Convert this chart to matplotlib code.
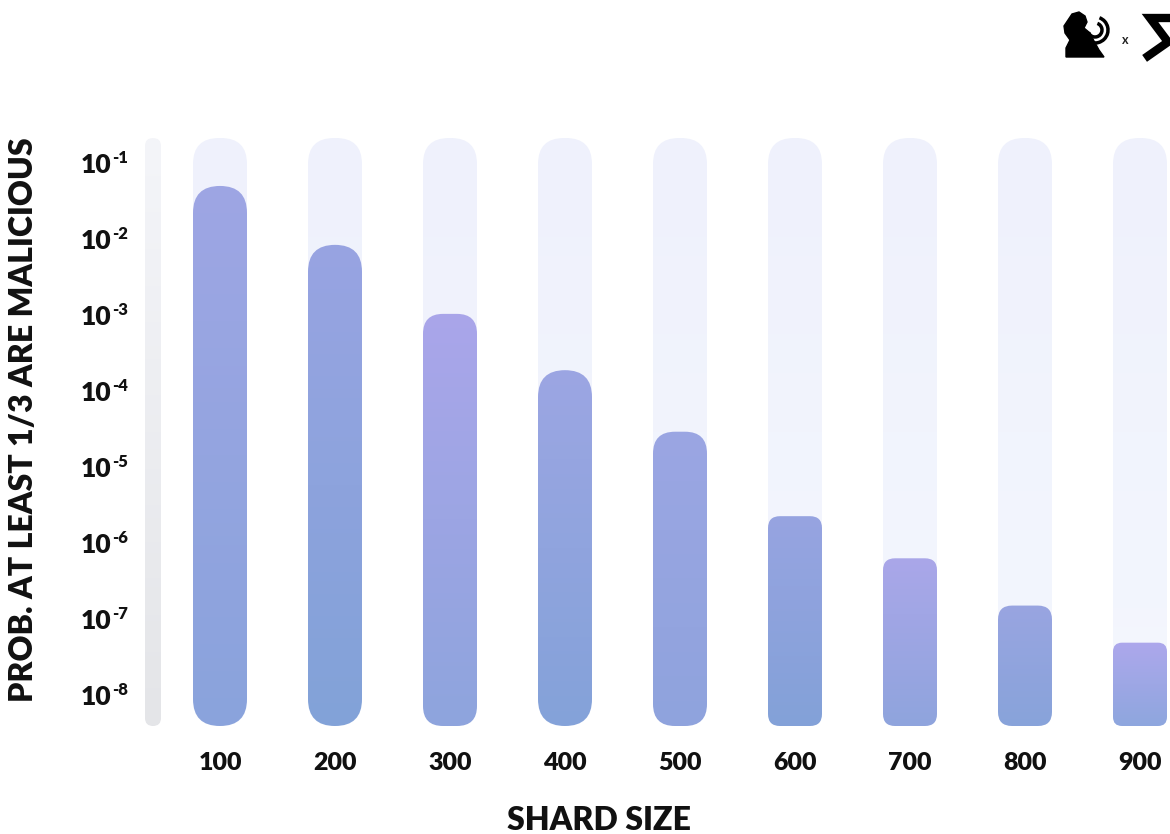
import matplotlib
matplotlib.use("Agg")
import matplotlib.pyplot as plt
import matplotlib.transforms as mtransforms
import numpy as np
from matplotlib.colors import to_rgb
from matplotlib.patches import FancyBboxPatch, Polygon, Arc

plt.rcParams["font.family"] = ["Lato", "DejaVu Sans"]
plt.rcParams["font.weight"] = "bold"

# shard size vs probability that at least 1/3 of the shard is malicious
shard_sizes = ["100", "200", "300", "400", "500", "600", "700", "800", "900"]
prob_malicious = [5.3e-2, 8.9e-3, 1.1e-3, 2.0e-4, 3.1e-5, 2.4e-6, 6.7e-7, 1.6e-7, 5.2e-8]
y_exponents = [-1, -2, -3, -4, -5, -6, -7, -8]
y_range = (10 ** -8.38, 10 ** -0.645)

# styling per bar: corner radius in pixels and top/bottom gradient colours
corner_px = [27, 27, 20, 27, 22, 12, 12, 14, 9]
top_colors = ["#9ea6e4", "#98a4e2", "#aaa6ea", "#9ca6e3", "#9ba6e3",
              "#97a4e1", "#aaa7e9", "#99a5e1", "#ada8ec"]
bottom_colors = ["#8aa3dc", "#82a2d8", "#8ea4dd", "#84a2d9", "#8fa3dd",
                 "#83a1d8", "#8fa4dd", "#88a3da", "#8ea6de"]

W, H = 1170, 834
fig = plt.figure(figsize=(W / 100, H / 100), dpi=100)
fig.patch.set_facecolor("white")

ax_left, ax_right, ax_top, ax_bottom = 140, 1170, 138, 726
ax = fig.add_axes([ax_left / W, 1 - ax_bottom / H,
                   (ax_right - ax_left) / W, (ax_bottom - ax_top) / H])

x = np.arange(len(shard_sizes))
x_step_px = 115.0
x_lim = ((ax_left - 220) / x_step_px, (ax_right - 220) / x_step_px)
y_lim = (np.log10(y_range[0]), np.log10(y_range[1]))

px_per_x = (ax_right - ax_left) / (x_lim[1] - x_lim[0])
px_per_y = (ax_bottom - ax_top) / (y_lim[1] - y_lim[0])
aspect = px_per_x / px_per_y
bar_w = 54 / px_per_x


def gradient_bar(x0, y0, w, h, radius_px, c_top, c_bottom, z):
    patch = FancyBboxPatch((x0, y0), w, h,
                           boxstyle=f"round,pad=0,rounding_size={radius_px / px_per_x}",
                           mutation_aspect=aspect, facecolor="none",
                           edgecolor="none", zorder=z)
    ax.add_patch(patch)
    t = np.linspace(0, 1, 256)[:, None, None]
    grad = (1 - t) * np.array(to_rgb(c_top)) + t * np.array(to_rgb(c_bottom))
    im = ax.imshow(grad, extent=(x0, x0 + w, y0, y0 + h), origin="upper",
                   aspect="auto", interpolation="bilinear", zorder=z)
    im.set_clip_path(patch)


# grey rail that stands in for the y axis
rail_w = 16 / px_per_x
gradient_bar(-67 / px_per_x - rail_w / 2, y_lim[0], rail_w, y_lim[1] - y_lim[0],
             8, "#f4f5f9", "#e4e5e8", 1)

for i, p in enumerate(prob_malicious):
    # pale full-height track behind each bar
    gradient_bar(x[i] - bar_w / 2, y_lim[0], bar_w, y_lim[1] - y_lim[0],
                 26, "#eff1fc", "#f4f7fe", 1)
    gradient_bar(x[i] - bar_w / 2, y_lim[0], bar_w, np.log10(p) - y_lim[0],
                 corner_px[i], top_colors[i], bottom_colors[i], 2)

ax.set_xlim(*x_lim)
ax.set_ylim(*y_lim)
ax.set_xticks(x)
ax.set_xticklabels(shard_sizes, fontsize=18, fontweight="heavy")
shift = mtransforms.Affine2D().translate(-4, 0)
for lbl in ax.get_xticklabels():
    lbl.set_transform(lbl.get_transform() + shift)
ax.set_yticks(y_exponents)
ax.set_yticklabels([])
ax.tick_params(axis="both", length=0, colors="#111111")
ax.tick_params(axis="x", pad=19)
for s in ax.spines.values():
    s.set_visible(False)
ax.set_facecolor("none")

# power-of-ten labels: base and raised exponent drawn separately
ytrans = ax.get_yaxis_transform()
for e in y_exponents:
    ax.text(-29 / (ax_right - ax_left), e, "10", transform=ytrans, ha="right",
            va="center", fontsize=19, fontweight="heavy", color="#111111")
    ax.text(-28 / (ax_right - ax_left), e, f"-{-e}",
            transform=ytrans + mtransforms.Affine2D().translate(0, 7),
            ha="left", va="center", fontsize=12, fontweight="heavy", color="#111111")

fig.text(24 / W, 1 - 420 / H, "PROB. AT LEAST 1/3 ARE MALICIOUS", rotation=90,
         ha="center", va="center", fontsize=23, fontweight="heavy", color="#111111")
fig.text(599 / W, 1 - 821 / H, "SHARD SIZE", ha="center", va="center",
         fontsize=23, fontweight="heavy", color="#111111")

# small logo in the top-right corner
logo = fig.add_axes([0, 0, 1, 1], zorder=5)
logo.set_xlim(0, W)
logo.set_ylim(H, 0)
logo.axis("off")
lion = [(1068, 20), (1072, 14), (1079, 12), (1085, 16), (1087, 22), (1084, 28),
        (1090, 33), (1094, 41), (1099, 50), (1104, 57), (1066, 57), (1066, 48),
        (1070, 40), (1065, 33), (1064, 26)]
logo.add_patch(Polygon(lion, closed=True, color="black"))
logo.add_patch(Arc((1095, 30), 26, 26, theta1=-70, theta2=160, color="black", lw=2.5))
logo.add_patch(Arc((1095, 30), 14, 14, theta1=-70, theta2=160, color="black", lw=2.5))
logo.text(1125, 40, "x", ha="center", va="center", fontsize=9, color="#222222")
logo.plot([1170, 1150, 1168, 1148], [18, 18, 42, 56], color="black", lw=6,
          solid_joinstyle="miter")

fig.savefig("out.png", dpi=100, facecolor="white")
